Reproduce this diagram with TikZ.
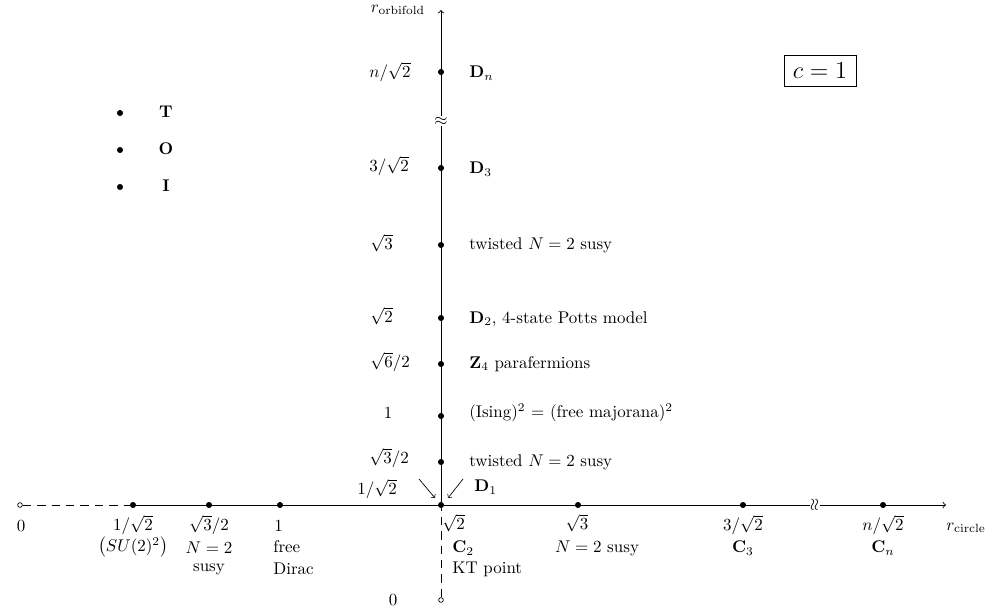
\documentclass[tikz,border=0pt]{standalone}
\usepackage{amsmath,amssymb}
\begin{document}
\begin{tikzpicture}[x=0.59pt,y=-0.59pt,
  dot/.style={circle,fill=black,inner sep=0pt,minimum size=3.6pt},
  odot/.style={circle,draw=black,fill=white,inner sep=0pt,minimum size=2.8pt,line width=0.4pt},
  lbl/.style={inner sep=0pt,font=\normalsize},
  rl/.style={lbl,anchor=west},
  ax/.style={line width=0.5pt},
  dsh/.style={line width=0.5pt,dash pattern=on 5pt off 3.5pt},
  brk/.style={inner sep=0.5pt,fill=white}]
\useasboundingbox (0,0) rectangle (986,610);
% vertical axis
\node[odot] (v0) at (441,600) {};
\node[dot] (o) at (441,505) {};
\node[dot] (v1) at (441,462) {};
\node[dot] (v2) at (441,416) {};
\node[dot] (v3) at (441,364) {};
\node[dot] (v4) at (441,318) {};
\node[dot] (v5) at (441,245) {};
\node[dot] (v6) at (441,168) {};
\node[brk] (vb) at (441,121) {$\approx$};
\node[dot] (v7) at (441,72) {};
\coordinate (vtop) at (441,10);
\draw[dsh] (v0) -- (o);
\draw[ax] (o) -- (vb);
\draw[ax,->] (vb) -- (vtop);
% horizontal axis
\node[odot] (h0) at (20,505) {};
\node[dot] (h1) at (133,505) {};
\node[dot] (h2) at (209,505) {};
\node[dot] (h3) at (280,505) {};
\node[dot] (h4) at (578,505) {};
\node[dot] (h5) at (743,505) {};
\node[brk] (hb) at (815,505) {\rotatebox{90}{$\approx$}};
\node[dot] (h6) at (883,505) {};
\coordinate (hend) at (946,505);
\draw[dsh] (h0) -- (h1);
\draw[ax] (h1) -- (hb);
\draw[ax,->] (hb) -- (hend);
% axis labels
\node[lbl] (rorb) at (398,10) {$r_{\mathrm{orbifold}}$};
\node[lbl,anchor=west] (rcirc) at (946,528) {$r_{\mathrm{circle}}$};
% left labels of vertical axis
\node[rl] (l7) at (369,72) {$n/\sqrt{2}$};
\node[rl] (l6) at (369,166) {$3/\sqrt{2}$};
\node[rl] (l5) at (370,243) {$\sqrt{3}$};
\node[rl] (l4) at (370,316) {$\sqrt{2}$};
\node[rl] (l3) at (370,362) {$\sqrt{6}/2$};
\node[lbl] (l2) at (388,413) {$1$};
\node[rl] (l1) at (369,458) {$\sqrt{3}/2$};
\node[rl] (l0) at (357,489) {$1/\sqrt{2}$};
\node[lbl] (lz) at (393,600) {$0$};
% right labels of vertical axis
\node[rl] (r7) at (469,73) {$\mathbf{D}_n$};
\node[rl] (r6) at (469,169) {$\mathbf{D}_3$};
\node[rl] (r5) at (469,245) {twisted $N=2$ susy};
\node[rl] (r4) at (469,319) {$\mathbf{D}_2$, 4-state Potts model};
\node[rl] (r3) at (469,364) {$\mathbf{Z}_4$ parafermions};
\node[rl] (r2) at (469,413) {(Ising)$^2$ = (free majorana)$^2$};
\node[rl] (r1) at (469,462) {twisted $N=2$ susy};
\node[rl] (r0) at (474,487) {$\mathbf{D}_1$};
\coordinate (a1s) at (419,479);
\coordinate (a1e) at (435,498);
\coordinate (a2s) at (463,479);
\coordinate (a2e) at (448,498);
\draw[line width=0.4pt,->] (a1s) -- (a1e);
\draw[line width=0.4pt,->] (a2s) -- (a2e);
% labels below horizontal axis
\node[lbl] (b0) at (21,526) {$0$};
\node[lbl] (b1) at (133,525) {$1/\sqrt{2}$};
\node[lbl] (b1b) at (133,547) {$\bigl(SU(2)^2\bigr)$};
\node[lbl] (b2) at (209,525) {$\sqrt{3}/2$};
\node[lbl] (b2b) at (209,548) {$N=2$};
\node[lbl] (b2c) at (209,569) {susy};
\node[lbl,anchor=west] (b3) at (274,526) {$1$};
\node[lbl,anchor=west] (b3b) at (273,547) {free};
\node[lbl,anchor=west] (b3c) at (273,569) {Dirac};
\node[lbl,anchor=west] (b4) at (442,523) {$\sqrt{2}$};
\node[lbl,anchor=west] (b4b) at (452,548) {$\mathbf{C}_2$};
\node[lbl,anchor=west] (b4c) at (452,569) {KT point};
\node[lbl] (b5) at (577,523) {$\sqrt{3}$};
\node[lbl] (b5b) at (597,548) {$N=2$ susy};
\node[lbl] (b6) at (743,525) {$3/\sqrt{2}$};
\node[lbl] (b6b) at (743,548) {$\mathbf{C}_3$};
\node[lbl] (b7) at (883,525) {$n/\sqrt{2}$};
\node[lbl] (b7b) at (883,548) {$\mathbf{C}_n$};
% T O I
\node[dot] (dT) at (120,113) {};
\node[dot] (dO) at (120,150) {};
\node[dot] (dI) at (120,187) {};
\node[lbl] (T) at (166,112) {$\mathbf{T}$};
\node[lbl] (O) at (166,149) {$\mathbf{O}$};
\node[lbl] (I) at (166,186) {$\mathbf{I}$};
% c=1 box
\node[draw,line width=0.5pt,inner sep=1.5pt,minimum width=42.5pt,minimum height=18pt,font=\Large] (c1) at (820,71) {$c=1$};
\end{tikzpicture}
\end{document}
